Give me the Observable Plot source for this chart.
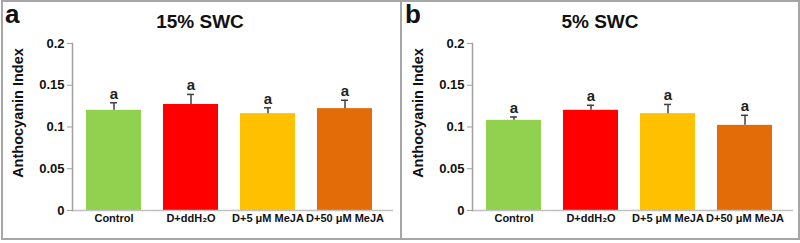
<!DOCTYPE html>
<html><head><meta charset="utf-8">
<script src="https://cdn.jsdelivr.net/npm/d3@7"></script>
<script src="https://cdn.jsdelivr.net/npm/@observablehq/plot@0.6"></script>
<style>
body{margin:0;background:#fff;font-family:"Liberation Sans",Arial,sans-serif;}
#wrap{position:relative;width:800px;height:243px;overflow:hidden;}
.panel{position:absolute;top:0;width:400px;height:239px;}
.letter{position:absolute;left:5px;top:1px;font-weight:bold;font-size:26px;line-height:26px;color:#111;}
.title{position:absolute;top:12px;left:0;width:400px;text-align:center;font-weight:bold;font-size:19px;line-height:20px;color:#111;}
.ln{position:absolute;background:#a6a6a6;}
svg{position:absolute;left:0;top:0;}
</style></head><body>
<div id="wrap">
  <div class="ln" style="left:1px;top:0;width:798px;height:2px"></div>
  <div class="ln" style="left:1px;top:0;width:2px;height:240px"></div>
  <div class="ln" style="left:400px;top:0;width:2px;height:240px"></div>
  <div class="ln" style="left:798px;top:0;width:2px;height:240px"></div>
  <div class="ln" style="left:1px;top:238px;width:799px;height:2px"></div>
</div>
<script>
const categories = ["Control", "D+ddH₂O", "D+5 μM MeJA", "D+50 μM MeJA"];
const colors = ["#92d050", "#ff0000", "#ffc000", "#e36c09"];
const yTicks = [0, 0.05, 0.1, 0.15, 0.2];
const panelLetters = ["a", "b"];
const panelTitles = ["15% SWC", "5% SWC"];
const means15 = [0.120, 0.127, 0.116, 0.122];
const errors15 = [0.009, 0.012, 0.007, 0.010];
const letters15 = ["a", "a", "a", "a"];
const means5 = [0.108, 0.120, 0.116, 0.102];
const errors5 = [0.004, 0.006, 0.011, 0.012];
const letters5 = ["a", "a", "a", "a"];

const font = '"Liberation Sans", Arial, sans-serif';

function makePanel(means, errors, sig) {
  const data = categories.map((c, i) => ({cat: c, v: means[i], e: errors[i], top: means[i] + errors[i], sig: sig[i]}));
  return Plot.plot({
    width: 400, height: 239,
    marginLeft: 72, marginRight: 7, marginTop: 43, marginBottom: 29,
    style: {fontFamily: font, background: "transparent"},
    x: {domain: categories, range: [74, 384], paddingInner: 0.29, paddingOuter: 0.145, label: null},
    y: {domain: [0, 0.2], label: null},
    color: {domain: categories, range: colors},
    marks: [
      Plot.barY(data, {x: "cat", y: "v", fill: "cat"}),
      Plot.ruleX(data, {x: "cat", y1: "v", y2: "top", stroke: "#404040", strokeWidth: 1.5}),
      Plot.tickY(data, {x: "cat", y: "top", stroke: "#404040", strokeWidth: 1.5, insetLeft: 24, insetRight: 24}),
      Plot.text(data, {x: "cat", y: "top", text: "sig", dy: -9, fontSize: 15, fontWeight: "bold", fill: "#222"}),
      Plot.ruleY([0], {stroke: "#c0c0c0", strokeWidth: 1.5}),
      Plot.frame({anchor: "left", stroke: "#a0a0a0", strokeWidth: 1.5}),
      Plot.axisY({ticks: yTicks, tickFormat: d => String(d), tickSize: 5, tickPadding: 3, stroke: "#a0a0a0", fontSize: 13, fontWeight: "bold", fill: "#111", label: null}),
      Plot.axisX({tickSize: 0, tickPadding: 4, fontSize: 11, fontWeight: "bold", fill: "#111", label: null}),
      Plot.text(["Anthocyanin Index"], {frameAnchor: "left", textAnchor: "middle", dx: -54, dy: -14, rotate: -90, fontSize: 14.5, fontWeight: "bold", fill: "#111"})
    ]
  });
}

const wrap = document.getElementById("wrap");
[[means15, errors15, letters15], [means5, errors5, letters5]].forEach((d, i) => {
  const p = document.createElement("div");
  p.className = "panel";
  p.style.left = (i * 400) + "px";
  p.appendChild(makePanel(...d));
  const t = document.createElement("div"); t.className = "title"; t.textContent = panelTitles[i];
  const l = document.createElement("div"); l.className = "letter"; l.textContent = panelLetters[i];
  p.appendChild(t); p.appendChild(l);
  wrap.appendChild(p);
});
</script>
</body></html>
